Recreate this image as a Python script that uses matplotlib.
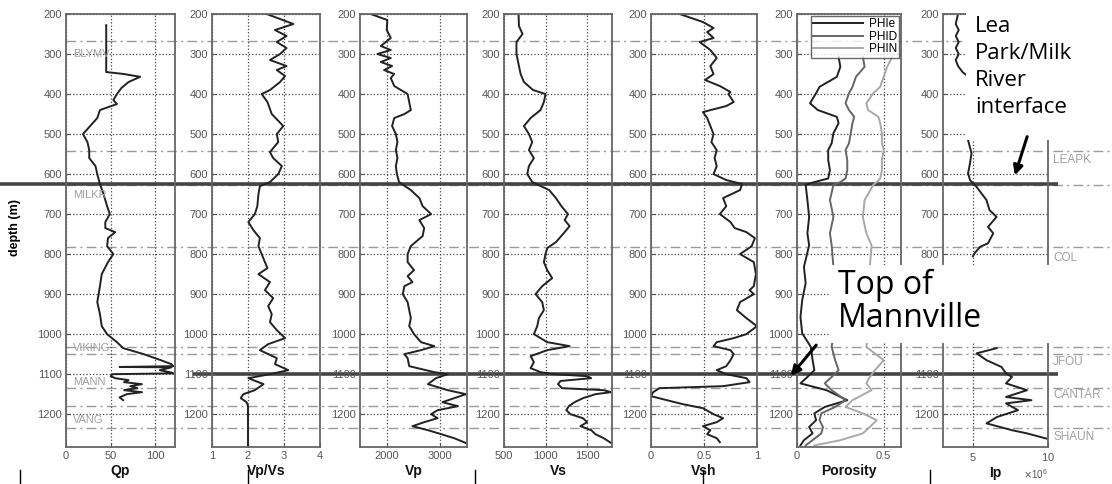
import numpy as np
import matplotlib
matplotlib.use('Agg')
import matplotlib.pyplot as plt
from matplotlib.patches import Rectangle, FancyArrowPatch
from matplotlib.lines import Line2D
from matplotlib.ticker import ScalarFormatter

plt.rcParams['font.family'] = ['Liberation Sans', 'DejaVu Sans']

# ---- log values (depth in m) ----
depth_qp = [228, 345, 350, 357, 370, 385, 400, 415, 425, 440, 460, 480, 500, 520, 540, 560, 580, 600, 625, 650,
            680, 700, 720, 735, 745, 760, 780, 800, 820, 850, 880, 920, 950, 980, 1000, 1020, 1035, 1050, 1065, 1075,
            1080, 1082, 1083, 1090, 1096, 1098, 1100, 1105, 1110, 1115, 1120, 1125, 1130, 1135, 1140, 1145, 1150, 1158, 1165]
qp = [45, 45, 65, 83, 70, 62, 57, 53, 57, 38, 35, 27, 19, 24, 26, 26, 33, 35, 38, 42,
      46, 49, 44, 44, 55, 47, 46, 53, 47, 40, 38, 35, 38, 40, 46, 57, 64, 87, 106, 118,
      120, 60, 118, 105, 118, 120, 52, 50, 55, 70, 65, 85, 72, 80, 65, 85, 68, 60, 64]

depth_vpvs = [200, 225, 240, 255, 270, 285, 300, 315, 330, 340, 355, 370, 390, 400, 420, 450, 480, 500, 520, 545,
              560, 580, 600, 620, 630, 650, 680, 700, 720, 740, 760, 780, 800, 820, 835, 850, 870, 890, 910, 930,
              950, 970, 990, 1010, 1025, 1040, 1060, 1075, 1090, 1100, 1110, 1125, 1140, 1150, 1160, 1170, 1180, 1282]
vpvs = [2.52, 3.26, 2.75, 3.07, 2.8, 3.07, 2.89, 2.61, 3.07, 2.8, 3.03, 2.89, 2.61, 2.38, 2.54, 2.66, 2.98, 2.8, 2.84, 2.61,
        2.7, 2.94, 2.84, 2.61, 2.33, 2.29, 2.26, 2.19, 2.01, 2.15, 2.33, 2.29, 2.38, 2.47, 2.54, 2.29, 2.61, 2.47, 2.7, 2.56,
        2.66, 2.61, 2.8, 3.03, 2.56, 2.33, 2.8, 2.75, 3.12, 2.61, 2.01, 2.43, 2.19, 1.87, 1.8, 1.96, 2.0, 2.0]

depth_vp = [200, 215, 240, 260, 280, 290, 300, 310, 320, 330, 340, 350, 360, 380, 400, 420, 440, 450, 460, 480,
            500, 520, 540, 560, 580, 600, 620, 640, 660, 680, 700, 715, 735, 755, 780, 800, 820, 840, 855, 870,
            880, 900, 920, 940, 960, 980, 1000, 1020, 1030, 1040, 1050, 1060, 1080, 1095, 1100, 1110, 1125, 1140, 1150, 1160,
            1170, 1180, 1190, 1200, 1210, 1220, 1230, 1240, 1250, 1260, 1272]
vp = [1700, 2010, 2000, 2075, 1890, 2075, 1825, 2075, 1890, 2100, 1950, 2140, 2075, 2140, 2390, 2420, 2450, 2330, 2140, 2100,
      2170, 2200, 2170, 2200, 2170, 2190, 2230, 2450, 2610, 2670, 2830, 2610, 2700, 2670, 2450, 2390, 2390, 2510, 2390, 2480,
      2330, 2300, 2390, 2420, 2450, 2420, 2510, 2640, 2890, 2640, 2330, 2390, 2420, 2890, 3140, 2920, 2770, 3140, 3480, 3260,
      3040, 3330, 2950, 2830, 2950, 2700, 2480, 2770, 3020, 3260, 3480]

depth_vs = [200, 230, 250, 270, 300, 330, 350, 370, 390, 400, 420, 440, 460, 480, 500, 520, 540, 560, 580, 600,
            620, 640, 660, 680, 700, 715, 730, 750, 770, 785, 800, 820, 840, 860, 880, 900, 920, 940, 960, 980,
            1000, 1020, 1030, 1040, 1055, 1070, 1085, 1095, 1100, 1105, 1110, 1117, 1125, 1135, 1140, 1145, 1150, 1160, 1170, 1180,
            1190, 1200, 1210, 1220, 1230, 1240, 1250, 1260, 1272]
vs = [675, 680, 723, 650, 650, 680, 700, 740, 850, 1000, 980, 940, 820, 740, 800, 840, 800, 860, 800, 780,
      840, 1044, 1125, 1190, 1270, 1230, 1290, 1210, 1125, 1020, 1000, 980, 1020, 1080, 960, 880, 960, 980, 920, 900,
      860, 1020, 1290, 1020, 820, 860, 820, 940, 1100, 1500, 1550, 1180, 1150, 1200, 1700, 1790, 1600, 1450, 1350, 1280,
      1250, 1300, 1450, 1500, 1420, 1550, 1600, 1700, 1790]

depth_vsh = [200, 220, 235, 245, 260, 270, 290, 310, 330, 350, 365, 380, 395, 400, 420, 430, 445, 460, 480, 500,
             520, 540, 560, 580, 600, 615, 625, 640, 660, 680, 700, 720, 735, 745, 760, 780, 800, 820, 850, 880,
             890, 900, 920, 940, 960, 980, 1000, 1010, 1020, 1030, 1040, 1050, 1065, 1080, 1090, 1100, 1110, 1120, 1130, 1135,
             1145, 1155, 1165, 1175, 1185, 1200, 1210, 1220, 1230, 1240, 1250, 1260, 1270]
vsh = [0.27, 0.49, 0.59, 0.53, 0.59, 0.46, 0.56, 0.62, 0.56, 0.59, 0.51, 0.65, 0.75, 0.73, 0.78, 0.71, 0.49, 0.53, 0.56, 0.59,
       0.57, 0.62, 0.6, 0.62, 0.59, 0.71, 0.86, 0.84, 0.68, 0.71, 0.65, 0.75, 0.79, 0.9, 0.98, 0.95, 0.84, 0.97, 0.99, 0.97,
       0.93, 0.97, 0.84, 0.81, 0.9, 1.0, 0.9, 0.78, 0.62, 0.59, 0.75, 0.78, 0.75, 0.71, 0.62, 0.71, 0.9, 0.93, 0.68, 0.08,
       0.02, 0.0, 0.15, 0.3, 0.49, 0.59, 0.68, 0.62, 0.49, 0.56, 0.53, 0.62, 0.65]

depth_phi = [307, 332, 357, 382, 398, 423, 440, 457, 473, 498, 523, 540, 565, 590, 611, 620, 627, 665, 707, 748,
             778, 832, 873, 915, 957, 998, 1032, 1065, 1090, 1107, 1123, 1140, 1165, 1182, 1198, 1215, 1232, 1248, 1265, 1278]
phie = [0.24, 0.25, 0.23, 0.13, 0.11, 0.075, 0.12, 0.23, 0.24, 0.21, 0.2, 0.18, 0.18, 0.19, 0.18, 0.1, 0.05, 0.06, 0.07, 0.06,
        0.07, 0.04, 0.05, 0.03, 0.02, 0.03, 0.08, 0.09, 0.1, 0.06, 0.02, 0.17, 0.29, 0.16, 0.1, 0.11, 0.07, 0.09, 0.04, 0.02]
phid = [0.38, 0.39, 0.34, 0.32, 0.30, 0.28, 0.30, 0.33, 0.32, 0.31, 0.30, 0.28, 0.29, 0.29, 0.28, 0.25, 0.21, 0.19, 0.21, 0.19,
        0.20, 0.21, 0.20, 0.21, 0.20, 0.21, 0.20, 0.22, 0.24, 0.20, 0.16, 0.20, 0.28, 0.22, 0.14, 0.13, 0.15, 0.14, 0.09, 0.05]
phin = [0.55, 0.52, 0.50, 0.48, 0.44, 0.40, 0.41, 0.47, 0.48, 0.49, 0.49, 0.50, 0.49, 0.49, 0.48, 0.46, 0.44, 0.39, 0.38, 0.40,
        0.43, 0.42, 0.42, 0.43, 0.42, 0.41, 0.40, 0.50, 0.45, 0.42, 0.40, 0.43, 0.32, 0.28, 0.38, 0.46, 0.42, 0.38, 0.25, 0.10]

# Ip in units of 1e6, two logged intervals
depth_ip_a = [200, 225, 240, 255, 270, 285, 300, 315, 330, 345, 360, 400, 450, 500, 515, 548, 573, 598, 615, 632,
              665, 690, 707, 732, 748, 773, 782, 798, 805]
ip_a = [4.0, 3.85, 4.05, 3.85, 4.05, 3.85, 4.05, 3.85, 4.0, 4.3, 4.8, 5.0, 4.9, 4.7, 4.67, 4.9, 4.8, 4.67, 4.8, 5.24,
        5.9, 6.1, 6.57, 6.0, 6.35, 6.0, 5.47, 5.1, 5.0]
depth_ip_b = [1035, 1048, 1065, 1082, 1098, 1107, 1123, 1140, 1157, 1165, 1173, 1190, 1207, 1223, 1240, 1248, 1261]
ip_b = [6.58, 5.24, 5.9, 6.9, 7.2, 7.6, 7.2, 8.6, 7.2, 8.9, 7.2, 8.0, 6.6, 5.9, 7.6, 8.6, 9.9]

# formation tops
tops = [267, 542, 628, 782, 1032, 1050, 1135, 1180, 1235]
key_tops = [625, 1100]
left_names = ['BLYMV', 'MILKR', 'VIKING', 'MANN', 'VANG']
left_name_depths = [300, 652, 1035, 1120, 1215]
right_names = ['LEAPK', 'COL', 'JFOU', 'CANTAR', 'SHAUN']
right_name_depths = [565, 810, 1070, 1152, 1257]

panel_names = ['Qp', 'Vp/Vs', 'Vp', 'Vs', 'Vsh', 'Porosity', 'Ip']

# ---- layout (pixels of the 1112x484 output) ----
W, H = 1112, 484
def fx(p):
    return p / W
def fy(p):
    return 1 - p / H

top_px, bot_px = 14, 447
dmin, dmax = 200, 1282
panel_px = [(66, 175), (212, 320), (360, 467), (504, 612), (651, 757), (797, 901), (943, 1048)]
xlims = [(0, 122), (1, 4), (1500, 3500), (500, 1800), (0, 1), (0, 0.6), (3e6, 10e6)]
xticks = [[0, 50, 100], [1, 2, 3, 4], [2000, 3000], [500, 1000, 1500], [0, 0.5, 1], [0, 0.5], [5e6, 10e6]]
xticklabels = [['0', '50', '100'], ['1', '2', '3', '4'], ['2000', '3000'], ['500', '1000', '1500'],
               ['0', '0.5', '1'], ['0', '0.5'], None]

fig = plt.figure(figsize=(W / 100, H / 100), dpi=100)
fig.patch.set_facecolor('white')

# background axes for the lines that run across all tracks
ov = fig.add_axes([0, fy(bot_px), 1, (bot_px - top_px) / H])
ov.set_xlim(0, W)
ov.set_ylim(dmax, dmin)
ov.axis('off')
ov.set_zorder(0)
ov.hlines(tops, 66, W, colors='#9a9a9a', linestyles=(0, (7, 3, 1.5, 3)), lw=1.0)
ov.hlines(key_tops[0], 0, 1058, colors='#444444', lw=2.6)
ov.hlines(key_tops[1], 193, 1058, colors='#444444', lw=2.6)
for name, d in zip(right_names, right_name_depths):
    ov.text(1053, d, name, color='#a0a0a0', fontsize=8.5, va='center', ha='left')

curve = '#222222'
axes = []
for i, (l, r) in enumerate(panel_px):
    ax = fig.add_axes([fx(l), fy(bot_px), (r - l) / W, (bot_px - top_px) / H])
    ax.set_zorder(1)
    ax.patch.set_alpha(0)
    ax.set_xlim(*xlims[i])
    ax.set_ylim(dmax, dmin)
    ax.set_yticks(range(200, 1201, 100))
    ax.set_xticks(xticks[i])
    if xticklabels[i] is not None:
        ax.set_xticklabels(xticklabels[i])
    ax.grid(True, ls=':', color='#444444', lw=0.9)
    ax.tick_params(direction='in', length=3, labelsize=8, labelcolor='#555555', color='#555555', pad=3)
    for s in ax.spines.values():
        s.set_color('#666666')
        s.set_linewidth(1.3)
    ax.set_xlabel(panel_names[i], fontsize=10, fontweight='bold', labelpad=2, color='#111111')
    axes.append(ax)

axes[0].plot(qp, depth_qp, color=curve, lw=1.4)
axes[1].plot(vpvs, depth_vpvs, color=curve, lw=1.4)
axes[2].plot(vp, depth_vp, color=curve, lw=1.4)
axes[3].plot(vs, depth_vs, color=curve, lw=1.4)
axes[4].plot(vsh, depth_vsh, color=curve, lw=1.4)
axes[5].plot(phie, depth_phi, color='#222222', lw=1.4, label='PHIe')
axes[5].plot(phid, depth_phi, color='#666666', lw=1.4, label='PHID')
axes[5].plot(phin, depth_phi, color='#a8a8a8', lw=1.4, label='PHIN')
axes[6].plot(np.array(ip_a) * 1e6, depth_ip_a, color=curve, lw=1.4)
axes[6].plot(np.array(ip_b) * 1e6, depth_ip_b, color=curve, lw=1.4)

leg = axes[5].legend(loc='upper right', fontsize=8.5, frameon=True, fancybox=False, edgecolor='#444444',
                     handlelength=4.2, handletextpad=0.5, borderaxespad=0.15, labelspacing=0.05, borderpad=0.2)
leg.get_frame().set_linewidth(1.0)

fmt = ScalarFormatter(useMathText=True)
fmt.set_powerlimits((6, 6))
axes[6].xaxis.set_major_formatter(fmt)
axes[6].xaxis.get_offset_text().set_fontsize(7)
axes[6].xaxis.get_offset_text().set_color('#555555')

# the Ip track's 900 and 1000 labels sit under the annotation box
for t in axes[6].yaxis.get_major_ticks()[7:9]:
    t.label1.set_visible(False)

for name, d in zip(left_names, left_name_depths):
    axes[0].text(8, d, name, color='#a0a0a0', fontsize=8, va='center', ha='left')

fig.text(fx(15), fy(228), 'depth (m)', rotation=90, fontsize=9, fontweight='bold', ha='center', va='center')

# annotation boxes
fig.add_artist(Rectangle((fx(966), fy(140)), fx(W - 966), 140 / H, transform=fig.transFigure,
                         facecolor='white', edgecolor='none', zorder=5))
fig.add_artist(Rectangle((fx(830), fy(343)), fx(1058 - 830), 78 / H, transform=fig.transFigure,
                         facecolor='white', edgecolor='none', zorder=5))
fig.text(fx(975), fy(16), 'Lea\nPark/Milk\nRiver\ninterface', fontsize=16, family='Open Sans',
         ha='left', va='top', linespacing=1.38, zorder=6)
fig.text(fx(838), fy(269), 'Top of\nMannville', fontsize=23, family='Open Sans',
         ha='left', va='top', linespacing=1.0, zorder=6)
fig.add_artist(FancyArrowPatch((fx(1028), fy(134)), (fx(1014), fy(178)), transform=fig.transFigure,
                               arrowstyle='-|>', mutation_scale=14, lw=2.2, color='black', zorder=6))
fig.add_artist(FancyArrowPatch((fx(818), fy(343)), (fx(789), fy(378)), transform=fig.transFigure,
                               arrowstyle='-|>', mutation_scale=14, lw=2.2, color='black', zorder=6))

# small marks along the bottom edge
for mx in [20, 248, 475, 703, 930]:
    fig.add_artist(Line2D([fx(mx), fx(mx)], [fy(470), fy(483)], transform=fig.transFigure, color='black', lw=1))

fig.savefig('out.png', dpi=100)
